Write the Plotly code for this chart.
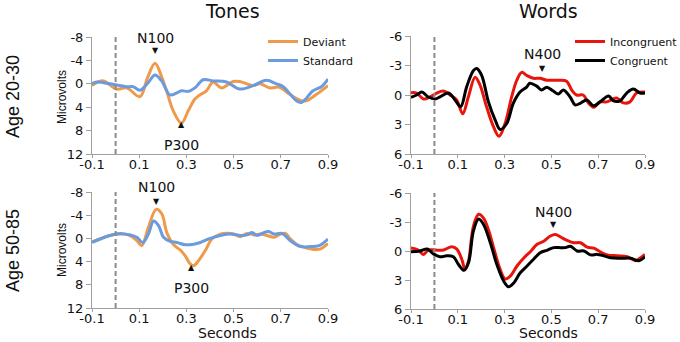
import plotly.graph_objects as go

# ---------------- data ----------------
# Tones, Age 20-30
t_dev_y = [-0.1, -0.052, 0.004, 0.047, 0.103, 0.135, 0.167, 0.195, 0.216, 0.244, 0.279, 0.308, 0.336,
           0.357, 0.385, 0.413, 0.449, 0.498, 0.526, 0.583, 0.611, 0.653, 0.695, 0.738, 0.787, 0.808,
           0.851, 0.9]
v_dev_y = [0.3, -0.5, 0.9, 0.7, 2.2, -1.0, -3.5, -1.2, 1.2, 4.6, 6.7, 4.6, 2.6,
           1.9, 1.2, -0.3, 0.7, -0.4, -0.4, 0.3, 0.0, 0.7, 0.6, 1.8, 2.9, 2.9,
           1.8, 0.3]
t_std_y = [-0.1, -0.08, -0.024, 0.004, 0.047, 0.075, 0.103, 0.138, 0.167, 0.195, 0.23, 0.258, 0.279,
           0.308, 0.336, 0.371, 0.413, 0.47, 0.526, 0.583, 0.639, 0.681, 0.71, 0.766, 0.787, 0.837,
           0.872, 0.9]
v_std_y = [0.0, -0.3, 0.0, 0.2, 0.5, 0.5, 1.1, -0.2, -1.5, -0.5, 1.9, 1.6, 1.2,
           1.3, 0.7, -0.7, -0.5, -0.3, 0.9, 0.3, -0.6, 0.0, 0.5, 2.9, 3.2, 1.2,
           0.5, -0.8]

# Words, Age 20-30
t_inc_y = [-0.1, -0.076, -0.047, -0.019, 0.01, 0.038, 0.067, 0.095, 0.121, 0.145, 0.174, 0.195, 0.223,
           0.252, 0.276, 0.302, 0.33, 0.352, 0.373, 0.394, 0.423, 0.451, 0.48, 0.508, 0.537, 0.565,
           0.587, 0.608, 0.636, 0.658, 0.682, 0.707, 0.736, 0.779, 0.807, 0.836, 0.864, 0.9]
v_inc_y = [-0.24, -0.2, 0.4, 0.2, -0.2, -0.4, 0.0, 0.5, 1.9, 0.2, -1.8, -1.0, 1.2,
           3.2, 4.2, 2.9, 0.2, -1.5, -2.3, -2.0, -1.7, -1.7, -1.5, -1.5, -1.5, -1.4,
           -0.5, 0.0, 0.0, 0.8, 1.25, 0.7, 0.7, 0.3, 0.8, 0.7, -0.2, -0.3]
t_con_y = [-0.1, -0.076, -0.054, -0.026, 0.003, 0.024, 0.06, 0.088, 0.112, 0.138, 0.167, 0.181, 0.202,
           0.231, 0.259, 0.281, 0.309, 0.337, 0.366, 0.394, 0.408, 0.437, 0.458, 0.48, 0.508, 0.53,
           0.551, 0.58, 0.601, 0.623, 0.651, 0.68, 0.708, 0.744, 0.765, 0.793, 0.822, 0.85, 0.879, 0.9]
v_con_y = [0.24, 0.0, -0.3, 0.2, 0.4, 0.2, -0.2, 0.5, 1.2, -0.85, -2.5, -2.7, -2.0,
           0.7, 2.5, 3.5, 2.9, 0.85, -0.3, -0.8, -1.2, -0.9, -0.5, -0.8, -0.4, -0.1,
           -0.5, 0.2, 1.0, 0.85, 0.5, 1.1, 0.7, 0.1, 0.6, 0.6, -0.2, -0.6, -0.2, -0.2]

# Tones, Age 50-85
t_dev_o = [-0.1, -0.066, -0.024, 0.019, 0.061, 0.09, 0.111, 0.139, 0.172, 0.196, 0.217, 0.246, 0.274,
           0.295, 0.316, 0.331, 0.352, 0.38, 0.408, 0.444, 0.472, 0.501, 0.529, 0.557, 0.586, 0.614,
           0.642, 0.671, 0.699, 0.72, 0.741, 0.77, 0.798, 0.841, 0.869, 0.9]
v_dev_o = [0.6, 0.1, -0.5, -0.75, -0.5, 0.4, 1.25, -1.9, -5.0, -4.2, -1.0, 1.1, 2.0,
           3.0, 4.4, 4.7, 3.8, 2.1, 0.1, -0.75, -0.9, -0.75, -0.3, -0.85, -0.6, -0.75,
           -0.5, -0.2, -0.75, -0.85, 0.1, 1.1, 1.5, 1.9, 1.8, 0.9]
t_std_o = [-0.1, -0.066, -0.024, 0.019, 0.061, 0.09, 0.115, 0.139, 0.161, 0.182, 0.203, 0.231, 0.26,
           0.295, 0.331, 0.359, 0.401, 0.444, 0.486, 0.529, 0.557, 0.578, 0.6, 0.628, 0.649, 0.671,
           0.706, 0.741, 0.784, 0.826, 0.862, 0.9]
v_std_o = [0.7, 0.1, -0.5, -0.85, -0.6, -0.2, 0.7, -0.75, -3.0, -2.2, -0.2, 0.5, 0.7,
           1.1, 1.0, 0.7, 0.0, -0.5, -0.75, -0.5, -0.6, -1.0, -0.5, -1.0, -1.2, -0.75,
           -0.85, 0.4, 1.4, 1.4, 1.25, 0.1]

# Words, Age 50-85
t_inc_o = [-0.1, -0.069, -0.047, -0.026, 0.003, 0.039, 0.074, 0.096, 0.117, 0.131, 0.146, 0.167, 0.189,
           0.21, 0.231, 0.253, 0.281, 0.303, 0.324, 0.353, 0.381, 0.41, 0.439, 0.467, 0.496, 0.517,
           0.539, 0.567, 0.596, 0.624, 0.653, 0.681, 0.71, 0.739, 0.781, 0.824, 0.86, 0.881, 0.9]
v_inc_o = [-0.3, -0.1, 0.35, -0.1, -0.1, -0.1, -0.45, -0.2, 0.85, 1.9, 1.0, -2.6, -3.8,
           -3.4, -2.2, -0.35, 1.9, 2.9, 2.6, 1.55, 0.75, 0.07, -0.7, -1.0, -1.55, -1.7,
           -1.45, -1.1, -0.85, -0.85, -0.4, -0.3, 0.1, 0.4, 0.5, 0.6, 1.0, 0.7, 0.35]
t_con_o = [-0.1, -0.061, -0.03, -0.004, 0.024, 0.053, 0.081, 0.103, 0.127, 0.146, 0.167, 0.189, 0.21,
           0.239, 0.267, 0.296, 0.317, 0.339, 0.367, 0.396, 0.424, 0.453, 0.481, 0.51, 0.531, 0.56,
           0.581, 0.61, 0.639, 0.667, 0.696, 0.724, 0.753, 0.796, 0.839, 0.874, 0.9]
v_con_o = [0.07, 0.0, -0.2, 0.3, 0.6, 0.5, 0.6, 1.4, 2.0, 1.2, -2.1, -3.3, -2.75,
           -0.85, 1.4, 3.1, 3.7, 3.3, 2.25, 1.55, 0.85, 0.17, -0.07, -0.35, -0.35, -0.35,
           -0.5, 0.0, 0.0, 0.4, 0.35, 0.5, 0.7, 0.75, 0.75, 1.0, 0.6]

x_ticks = [-0.1, 0.1, 0.3, 0.5, 0.7, 0.9]
x_ticktext = ["-0.1", "0.1", "0.3", "0.5", "0.7", "0.9"]
tones_ticks = [-8, -4, 0, 4, 8, 12]
tones_ticktext = ["-8", "-4", "0", "4", "8", "12"]
words_ticks = [-6, -3, 0, 3, 6]
words_ticktext = ["-6", "-3", "0", "3", "6"]

col_titles = ["Tones", "Words"]
row_titles = ["Age 20-30", "Age 50-85"]

ORANGE = "#EE9A4A"
BLUE = "#6A9BDE"
RED = "#E8150C"
BLACK = "#000000"

fig = go.Figure()

def add(t, v, name, color, xa, ya, legend, show):
    fig.add_trace(go.Scatter(x=t, y=v, mode="lines", name=name,
                             line=dict(color=color, width=3, shape="spline", smoothing=1.0),
                             xaxis=xa, yaxis=ya, legend=legend, showlegend=show))

add(t_dev_y, v_dev_y, "Deviant", ORANGE, "x", "y", "legend", True)
add(t_std_y, v_std_y, "Standard", BLUE, "x", "y", "legend", True)
add(t_inc_y, v_inc_y, "Incongruent", RED, "x2", "y2", "legend2", True)
add(t_con_y, v_con_y, "Congruent", BLACK, "x2", "y2", "legend2", True)
add(t_dev_o, v_dev_o, "Deviant", ORANGE, "x3", "y3", "legend", False)
add(t_std_o, v_std_o, "Standard", BLUE, "x3", "y3", "legend", False)
add(t_inc_o, v_inc_o, "Incongruent", RED, "x4", "y4", "legend2", False)
add(t_con_o, v_con_o, "Congruent", BLACK, "x4", "y4", "legend2", False)

W, H = 680, 342
AX_COL = "#a0a0a0"
TICK_FONT = dict(family="DejaVu Sans", size=13, color="#111")

def xax(domain, anchor):
    return dict(domain=domain, anchor=anchor, range=[-0.1, 0.9], tickvals=x_ticks, ticktext=x_ticktext,
                showgrid=False, zeroline=False, showline=True, linecolor=AX_COL, linewidth=1,
                ticks="outside", ticklen=3, tickcolor=AX_COL, tickfont=TICK_FONT, automargin=False,
                ticklabelstandoff=-5)

def yax(domain, anchor, rng, tv, tt):
    return dict(domain=domain, anchor=anchor, range=rng, tickvals=tv, ticktext=tt,
                showgrid=False, zeroline=False, showline=True, linecolor=AX_COL, linewidth=1,
                ticks="outside", ticklen=5, tickcolor=AX_COL, tickfont=TICK_FONT, automargin=False)

xl = [92 / W, 328 / W]
xr = [411 / W, 645 / W]
fig.update_layout(
    width=W, height=H,
    margin=dict(l=0, r=0, t=0, b=0, pad=0, autoexpand=False),
    paper_bgcolor="white", plot_bgcolor="white",
    xaxis=xax(xl, "y"),
    yaxis=yax([1 - 154 / H, 1 - 37 / H], "x", [12, -8], tones_ticks, tones_ticktext),
    xaxis2=xax(xr, "y2"),
    yaxis2=yax([1 - 154 / H, 1 - 36 / H], "x2", [6, -6], words_ticks, words_ticktext),
    xaxis3=xax(xl, "y3"),
    yaxis3=yax([1 - 308 / H, 1 - 192 / H], "x3", [12, -8], tones_ticks, tones_ticktext),
    xaxis4=xax(xr, "y4"),
    yaxis4=yax([1 - 309 / H, 1 - 193 / H], "x4", [6, -6], words_ticks, words_ticktext),
    legend=dict(x=263 / W, y=1 - 27 / H, xanchor="left", yanchor="top",
                bgcolor="rgba(0,0,0,0)", font=dict(family="DejaVu Sans", size=11, color="#111"),
                itemwidth=30, tracegroupgap=0),
    legend2=dict(x=570 / W, y=1 - 27 / H, xanchor="left", yanchor="top",
                 bgcolor="rgba(0,0,0,0)", font=dict(family="DejaVu Sans", size=11, color="#111"),
                 itemwidth=30, tracegroupgap=0),
)

# dashed stimulus-onset lines
for xa, ya in [("x", "y"), ("x2", "y2"), ("x3", "y3"), ("x4", "y4")]:
    fig.add_shape(type="line", xref=xa, yref=ya + " domain", x0=0, x1=0, y0=0, y1=1,
                  line=dict(color="#8a8a8a", width=2, dash="5px,3px"))

ann_font = dict(family="DejaVu Sans", size=14, color="#111")
tri_font = dict(family="DejaVu Sans", size=8, color="#111")

def label(xa, ya, x, y_text, y_tri, text, tri):
    # positions given in axis-domain fraction so labels above the plot area stay visible
    fig.add_annotation(xref=xa, yref=ya + " domain", x=x, y=y_text, text=text, showarrow=False,
                       font=ann_font, xanchor="center", yanchor="middle")
    fig.add_annotation(xref=xa, yref=ya + " domain", x=x, y=y_tri, text=tri, showarrow=False,
                       font=tri_font, xanchor="center", yanchor="middle")

def dom(v, lo, hi):
    # value -> domain fraction on a reversed axis (hi at top)
    return (lo - v) / (lo - hi)

label("x", "y", 0.167, dom(-7.8, 12, -8), dom(-5.7, 12, -8), "N100", "▼")
label("x", "y", 0.28, dom(10.4, 12, -8), dom(7.0, 12, -8), "P300", "▲")
label("x2", "y2", 0.46, dom(-4.2, 6, -6), dom(-2.7, 6, -6), "N400", "▼")
label("x3", "y3", 0.175, dom(-8.8, 12, -8), dom(-6.3, 12, -8), "N100", "▼")
label("x3", "y3", 0.32, dom(8.5, 12, -8), dom(5.1, 12, -8), "P300", "▲")
label("x4", "y4", 0.507, dom(-4.0, 6, -6), dom(-2.7, 6, -6), "N400", "▼")

# column titles
for xc, title in zip([232, 548], col_titles):
    fig.add_annotation(xref="paper", yref="paper", x=xc / W, y=1 - 11 / H, text=title,
                       showarrow=False, xanchor="center", yanchor="middle",
                       font=dict(family="DejaVu Sans", size=19, color="#111"))

# row titles
for yc, title in zip([97, 251], row_titles):
    fig.add_annotation(xref="paper", yref="paper", x=13 / W, y=1 - yc / H, text=title,
                       textangle=-90, showarrow=False, xanchor="center", yanchor="middle",
                       font=dict(family="Liberation Sans", size=18, color="#111"))

# Microvolts
for yc in [97, 250]:
    fig.add_annotation(xref="paper", yref="paper", x=62 / W, y=1 - yc / H, text="Microvolts",
                       textangle=-90, showarrow=False, xanchor="center", yanchor="middle",
                       font=dict(family="Liberation Sans", size=12, color="#111"))

# Seconds
for xc in [227, 548]:
    fig.add_annotation(xref="paper", yref="paper", x=xc / W, y=1 - 333 / H, text="Seconds",
                       showarrow=False, xanchor="center", yanchor="middle", borderpad=0,
                       font=dict(family="DejaVu Sans", size=14, color="#111"))

fig.write_html("out.html", config={"displayModeBar": False},
               post_script="document.body.style.margin='0px';")
